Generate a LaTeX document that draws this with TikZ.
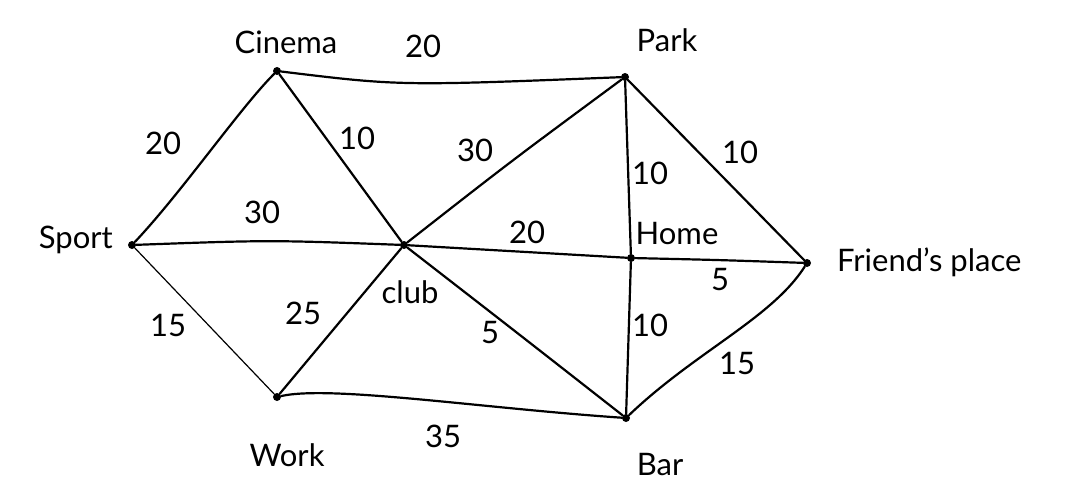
\documentclass[tikz,border=0pt]{standalone}
\usepackage{fontspec}
\setmainfont{Lato}
\begin{document}
\begin{tikzpicture}[x=1pt,y=-1pt,
  dot/.style={circle,fill=black,inner sep=0pt,minimum size=8pt},
  place/.style={font=\fontsize{31}{35}\selectfont,inner sep=1pt},
  wt/.style={font=\fontsize{31}{35}\selectfont,inner sep=1pt},
  edge/.style={line width=2.2pt,line cap=round,line join=round},
  thin edge/.style={line width=1.2pt,line cap=round}]
\useasboundingbox (0,0) rectangle (1079,495);
\fill[white] (0,0) rectangle (1079,495);
% vertices
\node[dot] (cin) at (277,71) {};
\node[dot] (park) at (625,77) {};
\node[dot] (sport) at (132,245) {};
\node[dot] (club) at (404,245) {};
\node[dot] (home) at (631,258) {};
\node[dot] (fr) at (807,263) {};
\node[dot] (work) at (277,397) {};
\node[dot] (bar) at (626,418) {};
% place names
\node[place] (cinL) at (286,42) {Cinema};
\node[place] (parkL) at (667,40) {Park};
\node[place,anchor=east] (sportL) at (114,240) {Sport};
\node[place] (clubL) at (410,292) {club};
\node[place] (homeL) at (677,234) {Home};
\node[place,anchor=west] (frL) at (836,262) {Friend's place};
\node[place] (workL) at (287,455) {Work};
\node[place] (barL) at (660,465) {Bar};
% edges
\draw[edge] (cin) .. controls (400,86) .. (park);
\draw[edge] (sport) .. controls (182,192) and (240,108) .. (cin);
\draw[edge] (cin) -- (club);
\draw[edge] (sport) .. controls (270,240) .. (club);
\draw[edge] (club) .. controls (510,162) .. (park);
\draw[edge] (club) -- (home);
\draw[edge] (park) -- (home);
\draw[edge] (park) -- (fr);
\draw[edge] (home) .. controls (720,260) .. (fr);
\draw[thin edge] (sport) -- (work);
\draw[edge] (work) .. controls (330,385) and (480,408) .. (bar);
\draw[edge] (club) .. controls (520,335) .. (bar);
\draw[edge] (home) -- (bar);
\draw[edge] (bar) .. controls (695,352) and (772,318) .. (fr);
\draw[edge] (work) -- (club);
% weights
\node[wt] (w1) at (423,46) {20};
\node[wt] (w2) at (163,143) {20};
\node[wt] (w3) at (357,138) {10};
\node[wt] (w4) at (262,212) {30};
\node[wt] (w5) at (475,150) {30};
\node[wt] (w6) at (527,232) {20};
\node[wt] (w7) at (650,173) {10};
\node[wt] (w8) at (740,152) {10};
\node[wt] (w9) at (720,280) {5};
\node[wt] (w10) at (168,325) {15};
\node[wt] (w11) at (303,313) {25};
\node[wt] (w12) at (490,333) {5};
\node[wt] (w13) at (650,325) {10};
\node[wt] (w14) at (737,363) {15};
\node[wt] (w15) at (443,436) {35};
\end{tikzpicture}
\end{document}
